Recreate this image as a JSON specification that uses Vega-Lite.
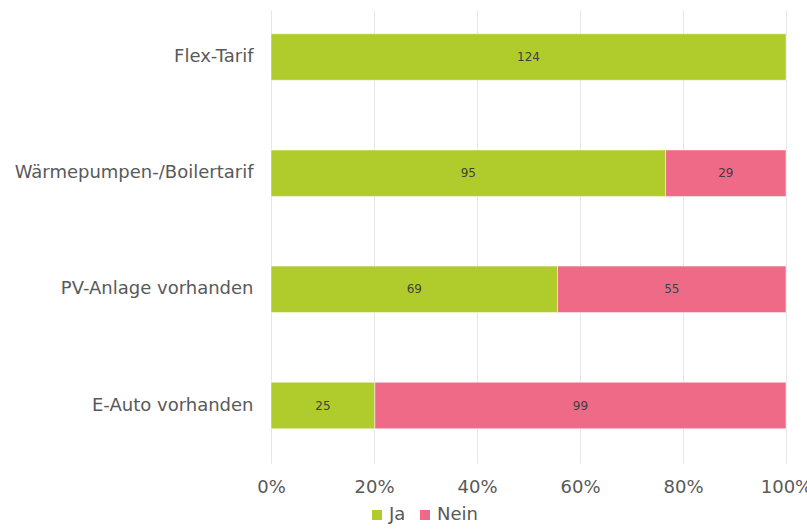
{
  "$schema": "https://vega.github.io/schema/vega-lite/v6.json",
  "width": 515,
  "height": 453,
  "padding": {"left": 14, "top": 10, "right": 0, "bottom": 0},
  "background": "white",
  "config": {
    "view": {"stroke": null},
    "font": "DejaVu Sans"
  },
  "data": {
    "values": [
      {"kategorie": "Flex-Tarif", "antwort": "Ja", "anzahl": 124},
      {"kategorie": "Wärmepumpen-/Boilertarif", "antwort": "Ja", "anzahl": 95},
      {"kategorie": "Wärmepumpen-/Boilertarif", "antwort": "Nein", "anzahl": 29},
      {"kategorie": "PV-Anlage vorhanden", "antwort": "Ja", "anzahl": 69},
      {"kategorie": "PV-Anlage vorhanden", "antwort": "Nein", "anzahl": 55},
      {"kategorie": "E-Auto vorhanden", "antwort": "Ja", "anzahl": 25},
      {"kategorie": "E-Auto vorhanden", "antwort": "Nein", "anzahl": 99}
    ]
  },
  "transform": [
    {"stack": "anzahl", "groupby": ["kategorie"], "offset": "normalize", "sort": [{"field": "antwort", "order": "ascending"}], "as": ["x0", "x1"]},
    {"calculate": "(datum.x0 + datum.x1) / 2", "as": "xmid"}
  ],
  "encoding": {
    "y": {
      "field": "kategorie",
      "type": "nominal",
      "sort": ["Flex-Tarif", "Wärmepumpen-/Boilertarif", "PV-Anlage vorhanden", "E-Auto vorhanden"],
      "scale": {"paddingInner": 0.6, "paddingOuter": 0.25, "align": 0.41},
      "axis": {
        "title": null,
        "domain": false,
        "ticks": false,
        "labelPadding": 18,
        "labelFontSize": 18,
        "labelColor": "#595959",
        "labelFont": "DejaVu Sans",
        "labelLimit": 400
      }
    }
  },
  "layer": [
    {
      "mark": {"type": "bar", "stroke": "white", "strokeWidth": 0.5},
      "encoding": {
        "x": {
          "field": "x0",
          "type": "quantitative",
          "scale": {"domain": [0, 1]},
          "axis": {
            "title": null,
            "format": ".0%",
            "values": [0, 0.2, 0.4, 0.6, 0.8, 1],
            "domain": false,
            "ticks": false,
            "grid": true,
            "gridColor": "#e6e6e6",
            "labelFontSize": 18,
            "labelColor": "#595959",
            "labelPadding": 15,
            "labelFlush": false
          }
        },
        "x2": {"field": "x1"},
        "color": {
          "field": "antwort",
          "type": "nominal",
          "scale": {"domain": ["Ja", "Nein"], "range": ["#B0CB2C", "#EF6A87"]},
          "legend": {
            "title": null,
            "orient": "none",
            "direction": "horizontal",
            "legendX": 97,
            "legendY": 496,
            "symbolType": "square",
            "symbolSize": 100,
            "symbolStrokeWidth": 0,
            "symbolOpacity": 1,
            "labelFontSize": 18,
            "labelColor": "#595959",
            "labelOffset": 3,
            "columnPadding": 10
          }
        }
      }
    },
    {
      "mark": {"type": "text", "fontSize": 12, "color": "#404040"},
      "encoding": {
        "x": {"field": "xmid", "type": "quantitative"},
        "text": {"field": "anzahl", "type": "quantitative"}
      }
    }
  ]
}
